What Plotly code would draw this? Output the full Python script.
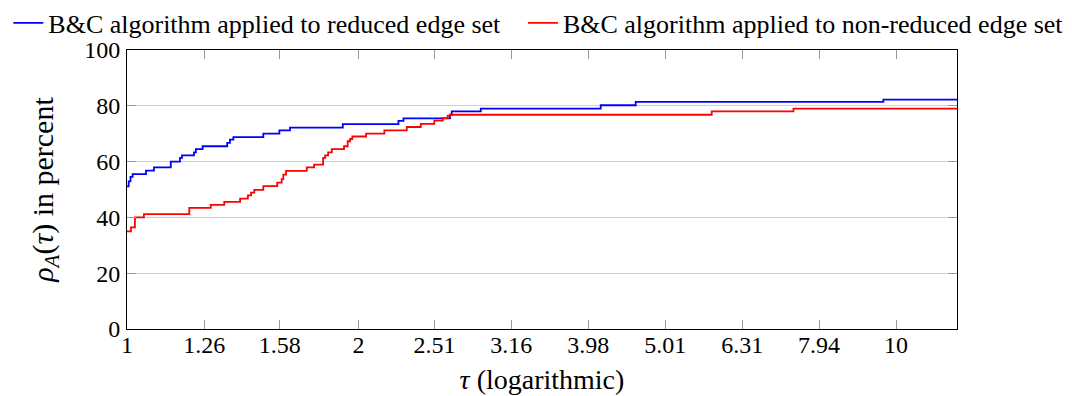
import math
import plotly.graph_objects as go

# ---- data (performance profile) ----
tau_max = 12.0

blue_tau = [1.000, 1.005, 1.0105, 1.017, 1.0585, 1.084, 1.140, 1.172, 1.179, 1.222, 1.229,
            1.254, 1.350, 1.361, 1.375, 1.504, 1.578, 1.629, 1.908, 2.254, 2.288, 2.630,
            2.644, 2.884, 4.130, 4.586, 9.627]
blue_pct = [51.1, 52.9, 54.5, 55.5, 56.8, 57.9, 60.0, 61.3, 62.2, 63.3, 64.5,
            65.5, 66.7, 67.9, 68.8, 70.0, 71.2, 72.2, 73.4, 74.6, 75.5, 76.8,
            78.0, 79.0, 80.2, 81.4, 82.2]

red_tau = [1.000, 1.012, 1.024, 1.052, 1.205, 1.285, 1.338, 1.403, 1.436, 1.450, 1.464,
           1.504, 1.568, 1.589, 1.597, 1.610, 1.713, 1.751, 1.799, 1.810, 1.826, 1.846,
           1.915, 1.936, 1.950, 1.963, 2.046, 2.161, 2.311, 2.410, 2.509, 2.574, 2.612,
           2.630, 5.758, 7.355]
red_pct = [35.0, 36.4, 40.0, 41.2, 43.4, 44.5, 45.6, 46.7, 47.9, 48.9, 49.9,
           51.2, 52.5, 53.7, 55.3, 56.7, 57.9, 58.9, 61.3, 62.2, 63.3, 64.5,
           65.5, 67.3, 68.1, 69.0, 70.0, 71.2, 72.4, 73.5, 74.7, 75.6, 76.5,
           76.8, 78.0, 79.0]

x_tick_labels = ["1", "1.26", "1.58", "2", "2.51", "3.16", "3.98", "5.01", "6.31", "7.94", "10"]
x_tick_vals = [float(t) for t in x_tick_labels]
y_tick_vals = [0, 20, 40, 60, 80, 100]

name_blue = "B&C algorithm applied to reduced edge set"
name_red = "B&C algorithm applied to non-reduced edge set"

FONT = "Liberation Serif"
FS_TICK = 24
FS_XTITLE = 28
FS_YTITLE = 30
FS_LEG = 26

fig = go.Figure()
fig.add_trace(go.Scatter(
    x=blue_tau + [tau_max], y=blue_pct + [blue_pct[-1]],
    mode="lines", line=dict(color="#0000ff", width=1.8, shape="hv"),
    name=name_blue, legend="legend"))
fig.add_trace(go.Scatter(
    x=red_tau + [tau_max], y=red_pct + [red_pct[-1]],
    mode="lines", line=dict(color="#ff0000", width=1.8, shape="hv"),
    name=name_red, legend="legend2"))

axis_common = dict(
    showline=True, linecolor="black", linewidth=1, mirror="ticks",
    ticks="inside", ticklen=9, tickcolor="#9a9a9a", tickwidth=1,
    tickfont=dict(family=FONT, size=FS_TICK, color="black"),
    zeroline=False,
)

fig.update_xaxes(
    type="log", range=[0, math.log10(tau_max)],
    tickvals=x_tick_vals, ticktext=x_tick_labels,
    showgrid=False, ticklabelstandoff=-6,
    title=dict(text="<i>τ</i> (logarithmic)", font=dict(family=FONT, size=FS_XTITLE, color="black"), standoff=12),
    **axis_common)
fig.update_yaxes(
    range=[0, 100], tickvals=y_tick_vals,
    showgrid=True, gridcolor="#d0d0d0", gridwidth=1, ticklabelstandoff=1,
    title=dict(text="<i>ρ</i><sub><i>A</i></sub>(<i>τ</i>) in percent",
               font=dict(family=FONT, size=FS_YTITLE, color="black"), standoff=21),
    **axis_common)

legend_common = dict(
    orientation="h", yanchor="middle", y=1.097, xanchor="left",
    font=dict(family=FONT, size=FS_LEG, color="black"),
    bgcolor="rgba(0,0,0,0)", borderwidth=0, itemwidth=30,
)
fig.update_layout(
    width=1064, height=388,
    margin=dict(l=119, r=115, t=42, b=67, autoexpand=False),
    paper_bgcolor="white", plot_bgcolor="white",
    legend=dict(x=-0.143, **legend_common),
    legend2=dict(x=0.477, **legend_common),
    showlegend=True,
)

fig.write_html("out.html")
